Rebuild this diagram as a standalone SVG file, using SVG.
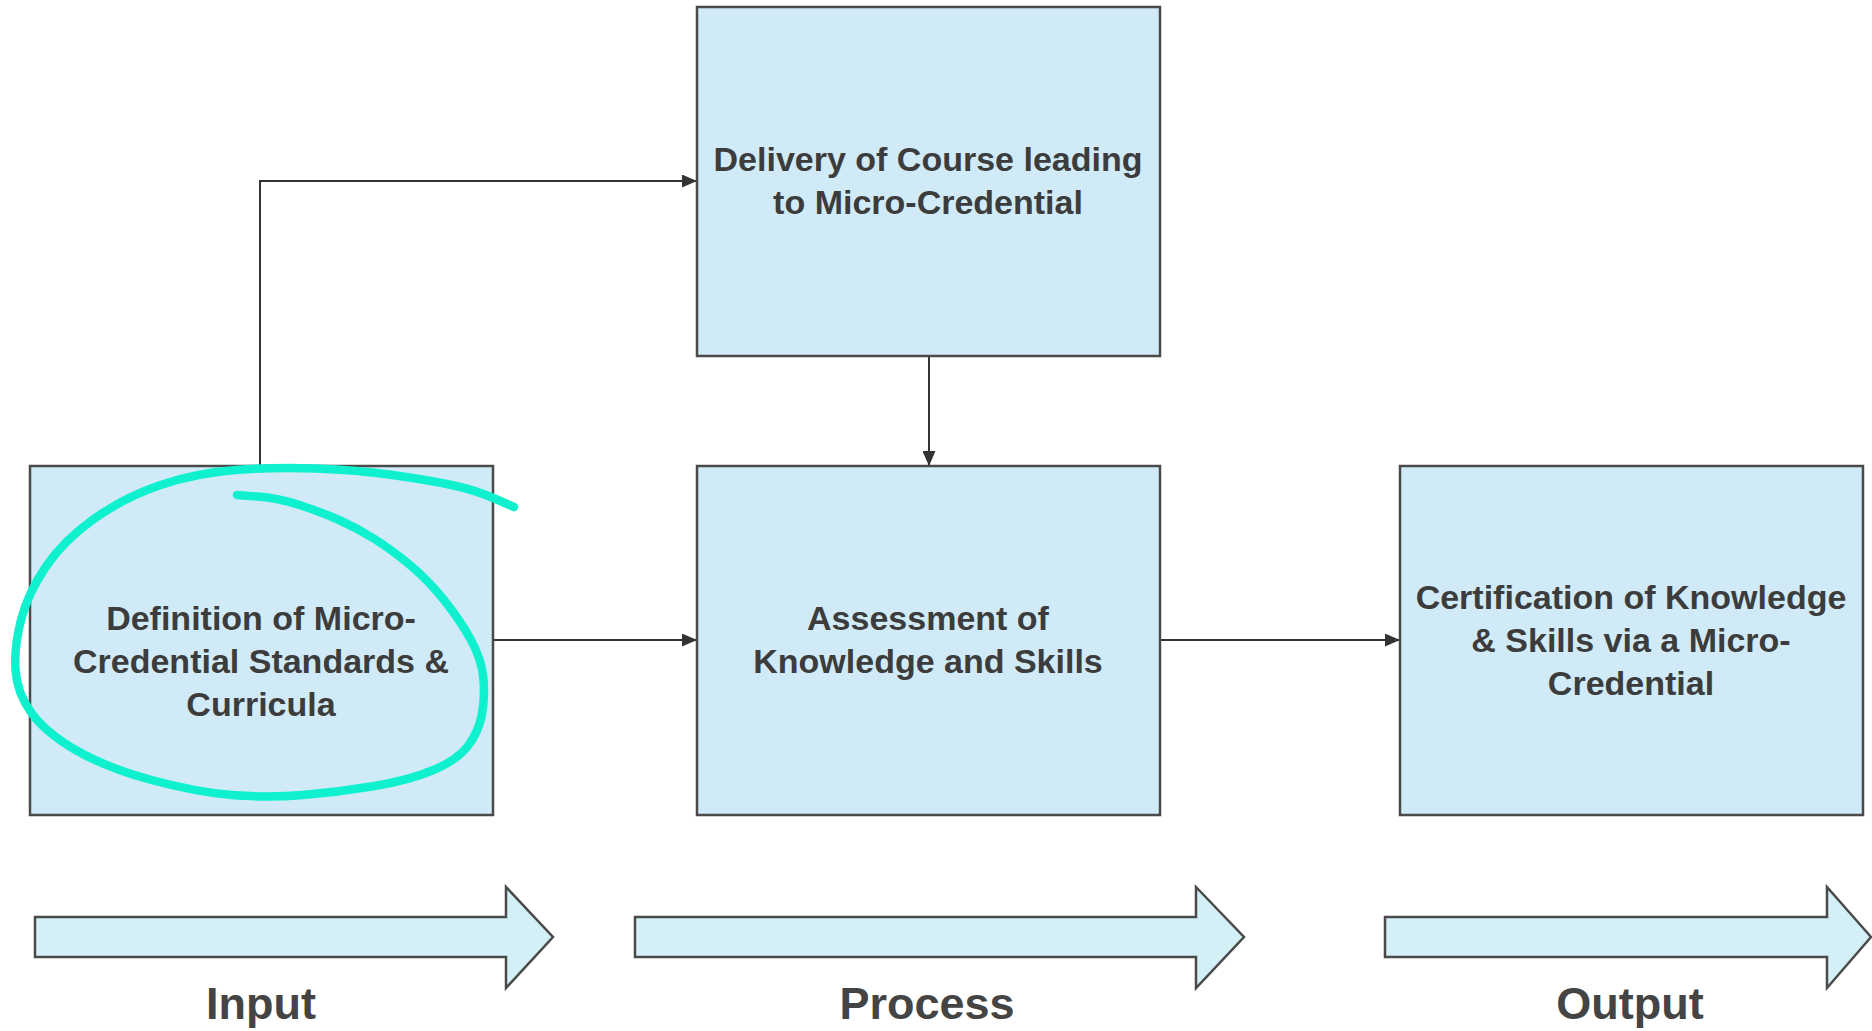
<svg xmlns="http://www.w3.org/2000/svg" width="1872" height="1031" viewBox="0 0 1872 1031">
<style>
.box{fill:#d0ebf7;stroke:#4a4a4a;stroke-width:2.5}
.lbl{font-family:"Liberation Sans",Arial,sans-serif;font-weight:bold;font-size:34px;fill:#3c3c3c;text-anchor:middle}
.conn{fill:none;stroke:#333;stroke-width:2}
.big{fill:#d2f0f6;stroke:#4a4a4a;stroke-width:2.5;stroke-linejoin:miter}
.phase{font-family:"Liberation Sans",Arial,sans-serif;font-weight:bold;font-size:45px;fill:#444;text-anchor:middle}
</style>
<defs>
<marker id="ah" markerUnits="userSpaceOnUse" markerWidth="15" markerHeight="13" refX="14" refY="6.5" orient="auto">
<path d="M0,0 L15,6.5 L0,13 Z" fill="#333"/>
</marker>
</defs>
<rect width="1872" height="1031" fill="#fff"/>
<g id="connectors">
<path class="conn" d="M260,466 V181 H696" marker-end="url(#ah)"/>
<path class="conn" d="M929,356 V465" marker-end="url(#ah)"/>
<path class="conn" d="M493,640 H696" marker-end="url(#ah)"/>
<path class="conn" d="M1159,640 H1399" marker-end="url(#ah)"/>
</g>
<g id="node-definition">
<rect class="box" x="30" y="466" width="463" height="349"/>
<text class="lbl"><tspan x="261" y="630">Definition of Micro-</tspan><tspan x="261" y="673">Credential Standards &amp;</tspan><tspan x="261" y="716">Curricula</tspan></text>
</g>
<g id="node-delivery">
<rect class="box" x="697" y="7" width="463" height="349"/>
<text class="lbl"><tspan x="928" y="171">Delivery of Course leading</tspan><tspan x="928" y="214">to Micro-Credential</tspan></text>
</g>
<g id="node-assessment">
<rect class="box" x="697" y="466" width="463" height="349"/>
<text class="lbl"><tspan x="928" y="630">Assessment of</tspan><tspan x="928" y="673">Knowledge and Skills</tspan></text>
</g>
<g id="node-certification">
<rect class="box" x="1400" y="466" width="463" height="349"/>
<text class="lbl"><tspan x="1631" y="609">Certification of Knowledge</tspan><tspan x="1631" y="652">&amp; Skills via a Micro-</tspan><tspan x="1631" y="695">Credential</tspan></text>
</g>
<g id="phase-input">
<path class="big" d="M35,917 H506 V887 L553,937 L506,988 V957 H35 Z"/>
<text class="phase" x="261" y="1019">Input</text>
</g>
<g id="phase-process">
<path class="big" d="M635,917 H1196 V887 L1244,937 L1196,988 V957 H635 Z"/>
<text class="phase" x="927" y="1019">Process</text>
</g>
<g id="phase-output">
<path class="big" d="M1385,917 H1827 V887 L1871,937 L1827,988 V957 H1385 Z"/>
<text class="phase" x="1630" y="1019">Output</text>
</g>
<g id="annotation">
<path fill="none" stroke="#0ff0cf" stroke-width="8.5" stroke-linecap="round" stroke-linejoin="round" d="M237,495 L257.5,496.5 Q278,498 299.5,505 Q321,512 339,520 Q357,528 374.5,539 Q392,550 410,565 Q428,580 444,600 Q460,620 471,640 Q482,660 483.5,680 Q485,700 481.5,716.5 Q478,733 467.5,746.5 Q457,760 433.5,770 Q410,780 374.5,786 Q339,792 303,795 Q267,798 231.5,795 Q196,792 151.5,780 Q107,768 76.5,750.5 Q46,733 31.5,713 Q17,693 15.5,670 Q14,647 21,620 Q28,593 46,566.5 Q64,540 94.5,518.5 Q125,497 160.5,485 Q196,473 235.5,470 Q275,467 316,468.5 Q357,470 392.5,475 Q428,480 451.5,485 Q475,490 494.5,498.5 L514,507"/>
</g>
</svg>
